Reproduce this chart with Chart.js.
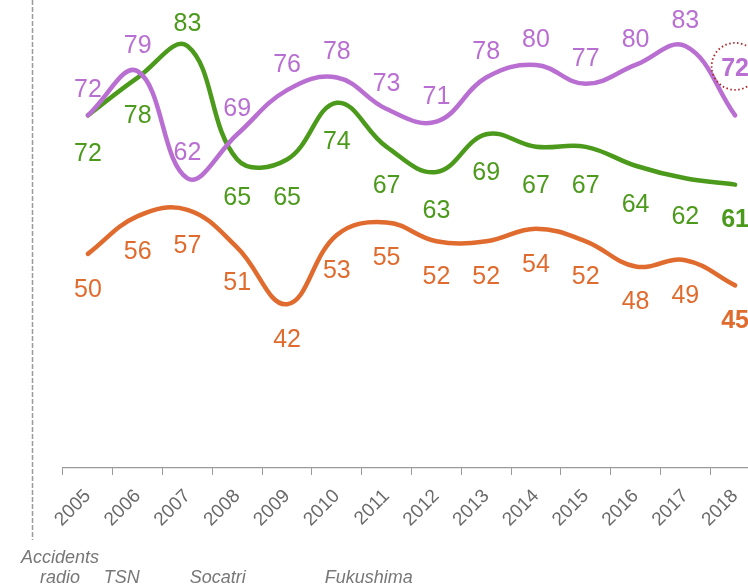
<!DOCTYPE html>
<html>
<head>
<meta charset="utf-8">
<script src="https://cdn.jsdelivr.net/npm/chart.js@4/dist/chart.umd.min.js"></script>
<style>
  html, body { margin: 0; padding: 0; background: #fff; overflow: hidden; width: 748px; height: 584px; }
  #wrap { position: relative; width: 780px; height: 584px; }
</style>
</head>
<body>
<div id="wrap"><canvas id="c" width="780" height="584"></canvas></div>
<script>
// ---- data ----
const years = ['2005','2006','2007','2008','2009','2010','2011','2012','2013','2014','2015','2016','2017','2018'];
const seriesPurple = [72,79,62,69,76,78,73,71,78,80,77,80,83,72];
const seriesGreen  = [72,78,83,65,65,74,67,63,69,67,67,64,62,61];
const seriesOrange = [50,56,57,51,42,53,55,52,52,54,52,48,49,45];
const eventLabels = [['Accidents','radio'],['TSN'],['Socatri'],['Fukushima']];
const eventPositions = [-0.56, 0.68, 2.61, 5.64];   // in category units
const markerPosition = -1.12;                        // dashed vertical line

const FONT = '"Liberation Sans", Arial, Helvetica, sans-serif';
const PURPLE = '#b96fd2', GREEN = '#4c9a1c', ORANGE = '#e06b2e';

const labelPlugin = {
  id: 'valueLabels',
  afterDatasetsDraw(chart) {
    const ctx = chart.ctx;
    chart.data.datasets.forEach((ds, di) => {
      const meta = chart.getDatasetMeta(di);
      meta.data.forEach((pt, i) => {
        const last = i === ds.data.length - 1;
        const side = ds.labelSide(i);
        let dy = side === 'above' ? ds.aboveOffset : ds.belowOffset;
        if (last && ds.lastLabelShift !== undefined) dy = ds.lastLabelShift;
        const x = pt.x, y = pt.y + dy;
        ctx.save();
        ctx.font = (last ? 'bold ' : '') + '25px ' + FONT;
        ctx.fillStyle = ds.borderColor;
        ctx.textAlign = 'center';
        ctx.textBaseline = 'middle';
        ctx.fillText(String(ds.data[i]), x, y + 1);
        if (last && ds.circleLast) {
          ctx.beginPath();
          ctx.setLineDash([1.5, 2.5]);
          ctx.lineWidth = 1.8;
          ctx.strokeStyle = '#b0242a';
          ctx.arc(x, y - 2, 23.5, 0, Math.PI * 2);
          ctx.stroke();
        }
        ctx.restore();
      });
    });
  }
};

const eventPlugin = {
  id: 'events',
  afterDraw(chart) {
    const ctx = chart.ctx;
    const xs = chart.scales.x;
    const p0 = xs.getPixelForValue(0), p1 = xs.getPixelForValue(1);
    const pos = v => p0 + v * (p1 - p0);
    ctx.save();
    // dashed marker line
    ctx.beginPath();
    ctx.setLineDash([5, 2]);
    ctx.lineWidth = 1.5;
    ctx.strokeStyle = '#9a9a9a';
    const mx = Math.round(pos(markerPosition)) + 0.5;
    ctx.moveTo(mx, 0);
    ctx.lineTo(mx, 540);
    ctx.stroke();
    ctx.setLineDash([]);
    // event texts
    ctx.font = 'italic 18px ' + FONT;
    ctx.fillStyle = '#777';
    ctx.textAlign = 'center';
    ctx.textBaseline = 'alphabetic';
    eventLabels.forEach((lines, k) => {
      const x = pos(eventPositions[k]);
      const startY = lines.length > 1 ? 563 : 583;
      lines.forEach((t, j) => ctx.fillText(t, x, startY + j * 20));
    });
    ctx.restore();
  }
};

new Chart(document.getElementById('c'), {
  type: 'line',
  data: {
    labels: years,
    datasets: [
      { label: 'Série violette', data: seriesPurple, borderColor: PURPLE,
        labelSide: () => 'above', aboveOffset: -26, belowOffset: 35,
        lastLabelShift: -47, circleLast: true },
      { label: 'Série verte', data: seriesGreen, borderColor: GREEN,
        labelSide: i => (i === 2 ? 'above' : 'below'), aboveOffset: -23, belowOffset: 38,
        lastLabelShift: 34 },
      { label: 'Série orange', data: seriesOrange, borderColor: ORANGE,
        labelSide: () => 'below', aboveOffset: -26, belowOffset: 35 }
    ]
  },
  options: {
    responsive: false,
    animation: false,
    layout: { padding: { left: 63, right: 20, top: 2, bottom: 0 } },
    elements: {
      line: { borderWidth: 4.5, tension: 0.4, borderCapStyle: 'round', borderJoinStyle: 'round', fill: false },
      point: { radius: 0, hoverRadius: 0 }
    },
    plugins: { legend: { display: false }, tooltip: { enabled: false } },
    scales: {
      x: {
        offset: true,
        grid: { display: true, drawOnChartArea: false, drawTicks: true, tickLength: 7, color: '#9a9a9a', offset: true },
        border: { display: true, color: '#9a9a9a', width: 1.2 },
        ticks: { color: '#6a6a6a', font: { family: FONT, size: 19 }, maxRotation: 45, minRotation: 45, autoSkip: false, padding: 10 },
        afterFit(scale) { scale.height = 116; }
      },
      y: { display: false, min: 16, max: 90 }
    }
  },
  plugins: [labelPlugin, eventPlugin]
});
</script>
</body>
</html>
